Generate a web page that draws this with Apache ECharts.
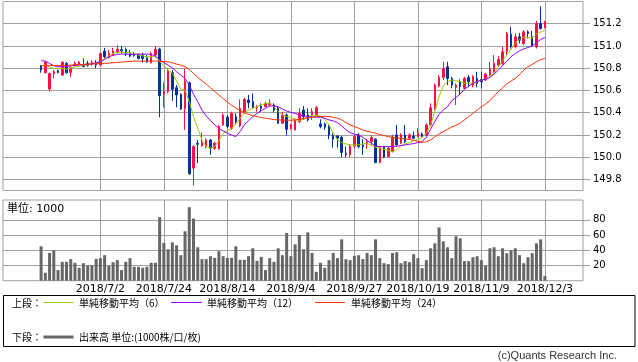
<!DOCTYPE html>
<html><head><meta charset="utf-8">
<script src="https://cdn.jsdelivr.net/npm/echarts@6/dist/echarts.min.js"></script>
<style>html,body{margin:0;padding:0;background:#fff}#c{width:638px;height:362px}</style>
</head><body><div id="c"></div>
<script>
const dates = [
'2018/6/12','2018/6/13','2018/6/14','2018/6/15','2018/6/18','2018/6/19','2018/6/20','2018/6/21','2018/6/22','2018/6/25','2018/6/26','2018/6/27','2018/6/28','2018/6/29',
'2018/7/2','2018/7/3','2018/7/4','2018/7/5','2018/7/6','2018/7/9','2018/7/10','2018/7/11','2018/7/12','2018/7/13','2018/7/17','2018/7/18','2018/7/19','2018/7/20','2018/7/23','2018/7/24','2018/7/25','2018/7/26','2018/7/27','2018/7/30','2018/7/31',
'2018/8/1','2018/8/2','2018/8/3','2018/8/6','2018/8/7','2018/8/8','2018/8/9','2018/8/10','2018/8/13','2018/8/14','2018/8/15','2018/8/16','2018/8/17','2018/8/20','2018/8/21','2018/8/22','2018/8/23','2018/8/24','2018/8/27','2018/8/28','2018/8/29','2018/8/30','2018/8/31',
'2018/9/3','2018/9/4','2018/9/5','2018/9/6','2018/9/7','2018/9/10','2018/9/11','2018/9/12','2018/9/13','2018/9/14','2018/9/18','2018/9/19','2018/9/20','2018/9/21','2018/9/25','2018/9/26','2018/9/27','2018/9/28',
'2018/10/1','2018/10/2','2018/10/3','2018/10/4','2018/10/5','2018/10/9','2018/10/10','2018/10/11','2018/10/12','2018/10/15','2018/10/16','2018/10/17','2018/10/18','2018/10/19','2018/10/22','2018/10/23','2018/10/24','2018/10/25','2018/10/26','2018/10/29','2018/10/30','2018/10/31',
'2018/11/1','2018/11/2','2018/11/5','2018/11/6','2018/11/7','2018/11/8','2018/11/9','2018/11/12','2018/11/13','2018/11/14','2018/11/15','2018/11/16','2018/11/19','2018/11/20','2018/11/21','2018/11/22','2018/11/26','2018/11/27','2018/11/28','2018/11/29','2018/11/30',
'2018/12/3'];

const open = [
150.819,150.759,150.613,150.750,150.777,150.738,150.843,150.762,150.822,150.834,
150.834,150.843,150.837,150.852,150.828,150.954,150.894,150.918,150.942,150.968,
150.968,150.933,150.927,150.918,150.918,150.894,150.849,150.918,150.971,150.568,
150.589,150.759,150.625,150.565,150.439,150.669,149.901,150.125,150.101,150.095,
150.155,150.080,150.074,150.290,150.359,150.260,150.364,150.281,150.400,150.514,
150.499,150.445,150.460,150.454,150.469,150.469,150.439,150.305,150.379,150.260,
150.245,150.320,150.424,150.379,150.379,150.379,150.299,150.299,150.275,150.194,
150.191,150.179,150.036,150.021,150.101,150.200,150.110,150.119,150.140,150.161,
149.952,150.095,150.006,150.050,150.200,150.125,150.200,150.170,150.191,150.185,
150.209,150.200,150.290,150.445,150.640,150.717,150.813,150.708,150.628,150.678,
150.619,150.717,150.649,150.708,150.699,150.693,150.738,150.768,150.828,150.843,
150.948,151.106,150.992,151.082,151.022,151.127,151.082,150.992,151.202,151.166];

const close = [
150.783,150.855,150.753,150.768,150.762,150.855,150.759,150.804,150.843,150.855,
150.816,150.825,150.852,150.828,150.933,150.903,150.933,150.954,150.971,150.957,
150.933,150.909,150.915,150.888,150.888,150.855,150.933,150.971,150.553,150.589,
150.777,150.610,150.559,150.433,150.684,149.850,150.095,150.116,150.131,150.155,
150.080,150.125,150.275,150.379,150.275,150.394,150.320,150.439,150.520,150.490,
150.448,150.460,150.439,150.484,150.484,150.424,150.305,150.379,150.251,150.290,
150.335,150.394,150.364,150.335,150.409,150.445,150.275,150.269,150.200,150.161,
150.170,150.042,150.021,150.101,150.185,150.095,150.095,150.140,150.176,149.952,
150.086,150.000,150.080,150.179,150.110,150.200,150.140,150.200,150.170,150.215,
150.185,150.290,150.445,150.649,150.717,150.798,150.708,150.649,150.649,150.634,
150.708,150.678,150.723,150.663,150.678,150.747,150.798,150.843,150.879,150.948,
151.112,150.992,151.082,151.052,151.127,151.112,151.001,151.202,151.157,151.217];

const high = [
150.828,150.861,150.759,150.783,150.789,150.861,150.855,150.822,150.861,150.864,
150.888,150.867,150.873,150.873,150.939,150.983,150.963,150.983,151.007,151.001,
150.986,150.963,150.948,150.933,150.939,150.918,150.948,150.998,150.983,150.672,
150.798,150.783,150.649,150.574,150.798,150.678,150.110,150.155,150.221,150.170,
150.161,150.140,150.290,150.394,150.379,150.409,150.394,150.520,150.535,150.559,
150.574,150.469,150.484,150.499,150.520,150.484,150.454,150.409,150.394,150.299,
150.350,150.439,150.460,150.439,150.439,150.460,150.341,150.311,150.290,150.215,
150.200,150.191,150.095,150.119,150.200,150.215,150.161,150.161,150.200,150.170,
150.101,150.101,150.095,150.200,150.290,150.215,150.290,150.215,150.230,150.260,
150.221,150.305,150.484,150.663,150.738,150.858,150.858,150.723,150.663,150.699,
150.723,150.738,150.738,150.768,150.768,150.759,150.858,150.918,150.909,150.992,
151.127,151.172,151.112,151.118,151.142,151.142,151.136,151.226,151.357,151.226];

const low = [
150.759,150.753,150.589,150.708,150.753,150.732,150.753,150.723,150.813,150.822,
150.807,150.813,150.822,150.801,150.819,150.888,150.888,150.909,150.933,150.933,
150.909,150.897,150.903,150.879,150.849,150.849,150.843,150.903,150.359,150.448,
150.574,150.508,150.448,150.424,150.245,149.841,149.746,149.946,150.095,150.080,
150.021,150.065,150.065,150.281,150.260,150.245,150.299,150.269,150.394,150.439,
150.439,150.409,150.409,150.448,150.460,150.400,150.299,150.299,150.194,150.245,
150.239,150.305,150.335,150.320,150.335,150.370,150.260,150.245,150.161,150.086,
150.086,150.000,150.000,150.000,150.080,150.080,150.021,150.074,150.110,149.946,
149.946,149.991,150.000,150.042,150.101,150.119,150.125,150.161,150.161,150.179,
150.179,150.185,150.275,150.424,150.628,150.693,150.649,150.619,150.469,150.559,
150.610,150.628,150.628,150.628,150.619,150.687,150.729,150.759,150.813,150.828,
150.918,150.977,150.977,151.022,151.007,151.067,150.992,150.977,151.148,151.157];

const ma6 = [
150.822,150.828,150.813,150.798,150.798,150.798,150.792,150.801,150.813,150.819,
150.825,150.828,150.843,150.843,150.858,150.888,150.909,150.933,150.942,150.942,
150.942,150.939,150.933,150.918,150.912,150.903,150.903,150.903,150.864,150.819,
150.783,150.753,150.687,150.610,150.604,150.499,150.365,150.260,150.155,150.095,
150.080,150.095,150.146,150.215,150.239,150.260,150.299,150.350,150.400,150.424,
150.439,150.454,150.472,150.481,150.484,150.454,150.409,150.379,150.365,150.359,
150.335,150.329,150.341,150.362,150.376,150.379,150.370,150.341,150.290,150.215,
150.155,150.131,150.119,150.110,150.110,150.110,150.119,150.125,150.104,150.089,
150.080,150.071,150.060,150.051,150.066,150.104,150.119,150.131,150.146,150.158,
150.179,150.215,150.290,150.409,150.544,150.640,150.678,150.693,150.687,150.678,
150.666,150.664,150.669,150.681,150.693,150.705,150.723,150.753,150.813,150.867,
150.918,150.968,151.028,151.061,151.079,151.076,151.070,151.106,151.124,151.142];

const ma12 = [
150.867,150.864,150.843,150.822,150.813,150.813,150.813,150.822,150.825,150.828,
150.831,150.834,150.840,150.849,150.858,150.879,150.903,150.915,150.924,150.927,
150.927,150.924,150.924,150.927,150.927,150.927,150.924,150.909,150.879,150.849,
150.828,150.804,150.768,150.738,150.708,150.649,150.565,150.499,150.424,150.370,
150.329,150.290,150.260,150.236,150.215,150.200,150.185,150.230,150.290,150.329,
150.365,150.394,150.418,150.439,150.460,150.460,150.454,150.433,150.415,150.403,
150.394,150.379,150.373,150.365,150.362,150.359,150.359,150.350,150.335,150.326,
150.311,150.281,150.245,150.221,150.206,150.197,150.179,150.149,150.125,150.101,
150.095,150.095,150.095,150.095,150.098,150.104,150.110,150.116,150.122,150.131,
150.137,150.179,150.251,150.320,150.385,150.424,150.454,150.508,150.538,150.568,
150.610,150.640,150.664,150.681,150.693,150.702,150.717,150.747,150.783,150.822,
150.864,150.903,150.933,150.957,150.974,150.986,151.001,151.028,151.058,151.076];

const ma24 = [
150.822,150.822,150.825,150.825,150.825,150.825,150.825,150.828,150.831,150.834,
150.834,150.837,150.837,150.840,150.843,150.843,150.846,150.849,150.852,150.855,
150.858,150.861,150.864,150.864,150.864,150.864,150.864,150.864,150.861,150.858,
150.858,150.849,150.837,150.828,150.813,150.792,150.753,150.717,150.687,150.658,
150.625,150.592,150.559,150.526,150.496,150.466,150.442,150.418,150.400,150.385,
150.373,150.365,150.356,150.350,150.344,150.338,150.335,150.332,150.332,150.332,
150.335,150.341,150.347,150.353,150.359,150.365,150.367,150.367,150.365,150.359,
150.350,150.335,150.311,150.290,150.275,150.260,150.245,150.233,150.224,150.215,
150.203,150.194,150.185,150.179,150.173,150.170,150.164,150.158,150.152,150.143,
150.134,150.137,150.155,150.182,150.209,150.230,150.251,150.272,150.287,150.305,
150.335,150.365,150.394,150.424,150.454,150.478,150.508,150.550,150.589,150.625,
150.658,150.684,150.708,150.741,150.783,150.813,150.834,150.858,150.876,150.888];

const volume = [
45.2,10.4,36.5,40.0,13.9,24.8,24.8,28.3,23.5,17.0,
23.0,20.0,20.4,28.7,29.6,33.5,20.0,24.3,27.0,13.9,
24.8,29.6,18.3,18.3,17.0,18.3,23.5,23.5,83.5,49.6,
41.3,50.4,46.5,33.5,64.8,96.5,81.7,43.9,28.3,28.3,
32.2,30.0,38.7,32.2,30.0,30.0,45.2,27.4,27.4,32.2,
42.6,26.1,31.3,13.9,29.6,24.8,42.6,33.5,62.6,32.2,
47.8,60.0,41.3,63.5,36.5,11.7,23.5,17.0,27.0,36.5,
29.6,54.3,28.3,27.0,32.6,33.5,28.3,36.5,33.5,54.3,
29.6,23.0,21.7,36.5,37.4,23.0,25.7,24.3,34.8,29.6,
16.5,27.0,42.6,49.1,70.0,51.7,43.9,29.6,58.3,55.7,
25.7,25.7,30.9,32.2,27.0,20.0,42.6,43.9,32.2,42.6,
36.1,40.0,42.6,33.5,23.0,30.9,36.1,49.1,54.3,6.1];

const dateTicks = ['2018/7/2','2018/7/24','2018/8/14','2018/9/4','2018/9/27','2018/10/19','2018/11/9','2018/12/3'];
const priceTicks = [149.8,150.0,150.2,150.4,150.6,150.8,151.0,151.2];
const volumeTicks = [20,40,60,80];

const PAD = 9;
const RED = '#ff1044', BLUE = '#003399', GRID = '#a0a0a0';
const FONT = 'DejaVu Sans, Noto Sans CJK JP, sans-serif';
const JP = 'Noto Sans CJK JP, sans-serif';

const cats = [];
for (let i = 0; i < PAD; i++) cats.push('L' + i);
dates.forEach(d => cats.push(d));
for (let i = 0; i < PAD; i++) cats.push('R' + i);
const padArr = (arr) => [...Array(PAD).fill('-'), ...arr, ...Array(PAD).fill('-')];
const ohlc = dates.map((d, i) => [open[i], close[i], low[i], high[i]]);
const isTick = (idx, val) => dateTicks.indexOf(val) >= 0;

const chart = echarts.init(document.getElementById('c'), null, {renderer: 'canvas'});
const xBase = (gi, labels) => ({
  type: 'category', gridIndex: gi, data: cats, boundaryGap: false,
  axisLine: {show: false}, axisTick: {show: false},
  axisLabel: labels ? {show: true, interval: isTick, margin: 3, fontSize: 11, color: '#000', fontFamily: FONT} : {show: false},
  splitLine: {show: true, interval: isTick, lineStyle: {color: GRID, width: 1}}
});
const yBase = (gi, min, max, interval, ticks, fmt) => ({
  type: 'value', gridIndex: gi, position: 'right', min, max, interval, scale: true,
  axisLine: {show: false},
  axisTick: {show: true, inside: false, length: 7, lineStyle: {color: GRID}, customValues: ticks},
  axisLabel: {show: true, margin: 10, fontSize: 10, color: '#000', fontFamily: FONT, customValues: ticks, formatter: fmt},
  splitLine: {show: true, lineStyle: {color: GRID, width: 1}}
});

const lbl = (x, y, text, size, font, color, align) => ({
  type: 'text', x, y, silent: true,
  style: {text, fontSize: size, fontFamily: font, fill: color || '#000', align: align || 'left', verticalAlign: 'middle'}
});
const seg = (x1, x2, y, color, w) => ({
  type: 'line', silent: true, shape: {x1, y1: y, x2, y2: y}, style: {stroke: color, lineWidth: w}
});

chart.setOption({
  animation: false,
  backgroundColor: '#fff',
  grid: [
    {left: 3, top: 1.5, width: 580, height: 189, show: true, borderColor: GRID, borderWidth: 1, outerBoundsMode: 'none'},
    {left: 3, top: 200, width: 580, height: 80.7, show: true, borderColor: GRID, borderWidth: 1, outerBoundsMode: 'none'}
  ],
  xAxis: [xBase(0, false), xBase(1, true)],
  yAxis: [
    yBase(0, 149.7, 151.4, 0.1, priceTicks, v => v.toFixed(1)),
    yBase(1, 0, 106, 20, volumeTicks, v => String(Math.round(v)))
  ],
  series: [
    {type: 'candlestick', name: 'price', xAxisIndex: 0, yAxisIndex: 0, data: padArr(ohlc), barWidth: 2,
     itemStyle: {color: RED, color0: BLUE, borderColor: RED, borderColor0: BLUE, borderWidth: 1}},
    {type: 'line', name: '単純移動平均（6）', xAxisIndex: 0, yAxisIndex: 0, data: padArr(ma6), showSymbol: false, symbol: 'none',
     lineStyle: {color: '#99cc00', width: 1}},
    {type: 'line', name: '単純移動平均（12）', xAxisIndex: 0, yAxisIndex: 0, data: padArr(ma12), showSymbol: false, symbol: 'none',
     lineStyle: {color: '#9900ff', width: 1}},
    {type: 'line', name: '単純移動平均（24）', xAxisIndex: 0, yAxisIndex: 0, data: padArr(ma24), showSymbol: false, symbol: 'none',
     lineStyle: {color: '#ff3300', width: 1}},
    {type: 'bar', name: '出来高', xAxisIndex: 1, yAxisIndex: 1, data: padArr(volume), barWidth: 3,
     itemStyle: {color: '#666666'}}
  ],
  graphic: [
    lbl(7, 209, '単位: 1000', 11, FONT, '#000'),
    {type: 'rect', silent: true, shape: {x: 3.5, y: 295.5, width: 631.5, height: 51}, style: {fill: 'none', stroke: '#000', lineWidth: 1}},
    lbl(12, 303, '上段：', 10, JP, '#000'),
    seg(43.5, 73.5, 302.5, '#99cc00', 1),
    lbl(79, 303, '単純移動平均（6）', 10, JP, '#000'),
    seg(171, 202, 302.5, '#9900ff', 1),
    lbl(207, 303, '単純移動平均（12）', 10, JP, '#000'),
    seg(315, 345, 302.5, '#ff3300', 1),
    lbl(351, 303, '単純移動平均（24）', 10, JP, '#000'),
    lbl(12, 337, '下段：', 10, JP, '#000'),
    seg(43.5, 73.5, 337, '#666666', 3),
    lbl(79, 337, '出来高 単位:(1000株/口/枚)', 10, JP, '#000'),
    lbl(617, 356, '(c)Quants Research Inc.', 11, 'Liberation Sans, sans-serif', '#333', 'right')
  ]
});
</script>
</body></html>
